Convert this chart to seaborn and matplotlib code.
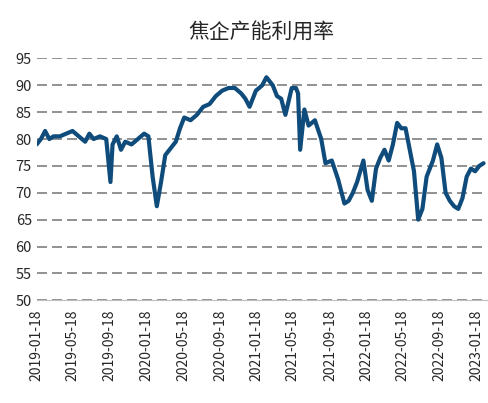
import numpy as np
import pandas as pd
import matplotlib
matplotlib.use("Agg")
import matplotlib.pyplot as plt
import seaborn as sns

# values (date, utilisation %)
dates = ["2019-01-18", "2019-02-01", "2019-02-15", "2019-03-01", "2019-03-15", "2019-04-05",
         "2019-04-26", "2019-05-17", "2019-06-07", "2019-06-28", "2019-07-12", "2019-07-26",
         "2019-08-16", "2019-09-06", "2019-09-20", "2019-09-27", "2019-10-11", "2019-10-25",
         "2019-11-08", "2019-11-29", "2019-12-20", "2020-01-10", "2020-01-24", "2020-02-07",
         "2020-02-21", "2020-03-06", "2020-03-20", "2020-04-10", "2020-04-24", "2020-05-08",
         "2020-05-22", "2020-06-12", "2020-07-03", "2020-07-24", "2020-08-14", "2020-09-04",
         "2020-09-25", "2020-10-16", "2020-11-06", "2020-11-27", "2020-12-11", "2020-12-25",
         "2021-01-15", "2021-02-05", "2021-02-19", "2021-03-12", "2021-03-26", "2021-04-09",
         "2021-04-23", "2021-05-14", "2021-05-28", "2021-06-04", "2021-06-11", "2021-06-25",
         "2021-07-09", "2021-07-30", "2021-08-20", "2021-09-03", "2021-09-24", "2021-10-15",
         "2021-11-05", "2021-11-19", "2021-12-03", "2021-12-17", "2022-01-07", "2022-01-21",
         "2022-02-04", "2022-02-18", "2022-03-04", "2022-03-18", "2022-04-01", "2022-04-15",
         "2022-04-29", "2022-05-13", "2022-05-27", "2022-06-10", "2022-06-24", "2022-07-08",
         "2022-07-22", "2022-08-05", "2022-08-26", "2022-09-09", "2022-09-23", "2022-10-07",
         "2022-10-21", "2022-11-04", "2022-11-18", "2022-12-02", "2022-12-16", "2022-12-30",
         "2023-01-13", "2023-01-27", "2023-02-10"]
rate = [79, 80, 81.5, 80, 80.5, 80.5, 81, 81.5, 80.5, 79.5, 81, 80,
        80.5, 80, 72, 79, 80.5, 78, 79.5, 79, 80, 81, 80.5, 73,
        67.5, 72, 77, 78.5, 79.5, 82, 84, 83.5, 84.5, 86, 86.5, 88,
        89, 89.5, 89.5, 88.5, 87.5, 86, 89, 90, 91.5, 90, 88, 87.5,
        84.5, 89.5, 89.5, 88.5, 78, 85.5, 82.5, 83.5, 80, 75.5, 76, 72.5,
        68, 68.5, 70, 72, 76, 70.5, 68.5, 74.5, 76.5, 78, 76, 79,
        83, 82, 82, 78, 74, 65, 67, 73, 76, 79, 76.5, 70,
        68.5, 67.5, 67, 69, 73, 74.5, 74, 75, 75.5]
tick_dates = ["2019-01-18", "2019-05-18", "2019-09-18", "2020-01-18", "2020-05-18",
              "2020-09-18", "2021-01-18", "2021-05-18", "2021-09-18", "2022-01-18",
              "2022-05-18", "2022-09-18", "2023-01-18"]

df = pd.DataFrame({"date": pd.to_datetime(dates), "rate": rate})

sns.set_style("white")
plt.rcParams["font.family"] = ["Noto Sans CJK SC", "DejaVu Sans"]

fig, ax = plt.subplots(figsize=(4.89, 4.03), dpi=100)
sns.lineplot(data=df, x="date", y="rate", ax=ax, color="#0f4c7b", linewidth=3)

ax.set_ylim(50, 95)
ax.set_yticks(range(50, 96, 5))
ax.set_xlim(pd.Timestamp("2019-01-18"), pd.Timestamp("2023-02-20"))
ax.set_xticks(pd.to_datetime(tick_dates))
ax.set_xticklabels(tick_dates, rotation=90, fontsize=10)
ax.tick_params(axis="y", labelsize=10.5, length=0)
ax.tick_params(axis="x", length=3, color="#999999")
ax.yaxis.grid(True, linestyle=(0, (6, 3)), color="#7f7f7f", linewidth=1.2)
ax.set_axisbelow(True)
for s in ["top", "right", "left"]:
    ax.spines[s].set_visible(False)
ax.spines["bottom"].set_color("#bfbfbf")
ax.set_xlabel("")
ax.set_ylabel("")
ax.set_title("焦企产能利用率", fontsize=15, pad=14)

fig.subplots_adjust(left=0.075, right=0.995, top=0.855, bottom=0.255)
fig.savefig("out.png", dpi=100)
